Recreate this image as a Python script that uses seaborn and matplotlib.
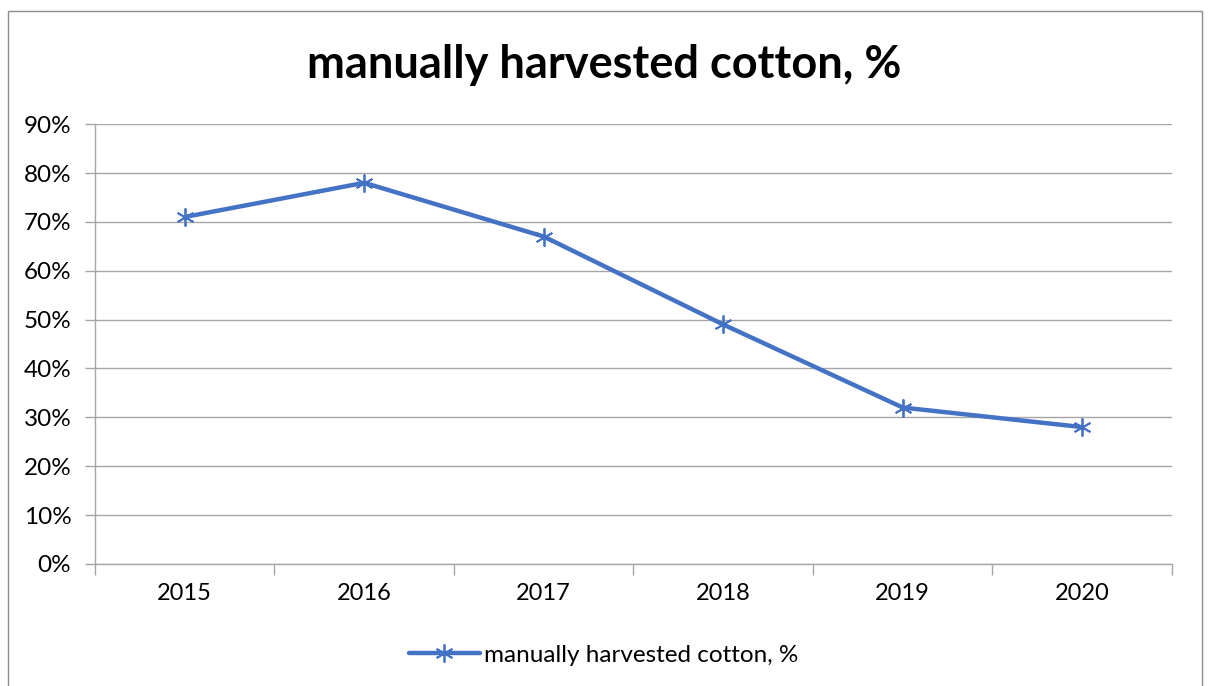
import numpy as np
import pandas as pd
import matplotlib
matplotlib.use("Agg")
import matplotlib.pyplot as plt
import seaborn as sns
from matplotlib.patches import Rectangle
from matplotlib.ticker import FixedLocator, PercentFormatter

# chart data
years = ["2015", "2016", "2017", "2018", "2019", "2020"]
share_manual = [71, 78, 67, 49, 32, 28]
series_name = "manually harvested cotton, %"
y_ticks = [0, 10, 20, 30, 40, 50, 60, 70, 80, 90]

sns.set_style("white")
plt.rcParams["font.family"] = ["Lato", "DejaVu Sans"]
plt.rcParams["text.color"] = "black"
plt.rcParams["xtick.labelcolor"] = "black"
plt.rcParams["ytick.labelcolor"] = "black"

df = pd.DataFrame({"year": years, "value": share_manual})

fig = plt.figure(figsize=(12.08, 6.86), dpi=100)
ax = fig.add_axes([0.0786, 0.178, 0.8916, 0.641])

sns.lineplot(data=df, x="year", y="value", ax=ax, color="#4472C4",
             linewidth=3.2, marker=(6, 2, 0), markersize=13,
             markeredgecolor="#4472C4", markeredgewidth=1.3,
             label=series_name)

ax.set_xlim(-0.5, len(years) - 0.5)
ax.set_ylim(0, max(y_ticks))
ax.set_yticks(y_ticks)
ax.yaxis.set_major_formatter(PercentFormatter(decimals=0))
ax.grid(axis="y", color="#a6a6a6", linewidth=1.0)
ax.set_axisbelow(True)
ax.set_xlabel("")
ax.set_ylabel("")

# category boundary ticks on the x axis
ax.xaxis.set_minor_locator(FixedLocator(np.arange(-0.5, len(years), 1.0)))
ax.tick_params(axis="x", which="major", length=0, pad=14, labelsize=17)
ax.tick_params(axis="x", which="minor", length=8, width=1, color="#a6a6a6",
               direction="out", bottom=True)
ax.tick_params(axis="y", length=7, width=1, color="#a6a6a6", direction="out",
               left=True, pad=10, labelsize=17.5)

for side in ["top", "right"]:
    ax.spines[side].set_visible(False)
for side in ["left", "bottom"]:
    ax.spines[side].set_color("#a6a6a6")
    ax.spines[side].set_linewidth(1.0)

# title and legend are centred on the whole chart, not the plot area
fig.text(0.5, 1 - 65 / 686, series_name, fontsize=32.5, fontweight="bold",
         color="black", ha="center", va="center")

ax.get_legend().remove()
handles, labels = ax.get_legend_handles_labels()
fig.legend(handles, labels, loc="center", bbox_to_anchor=(0.5, 1 - 655 / 686),
           frameon=False, fontsize=17.5, handlelength=2.9, handletextpad=0.2)

# outer chart border
fig.patches.append(Rectangle((8 / 1208, -0.05), 1194 / 1208, 1.05 - 11 / 686,
                             transform=fig.transFigure, fill=False,
                             edgecolor="#8c8c8c", linewidth=1.0))

fig.savefig("out.png", dpi=100)
